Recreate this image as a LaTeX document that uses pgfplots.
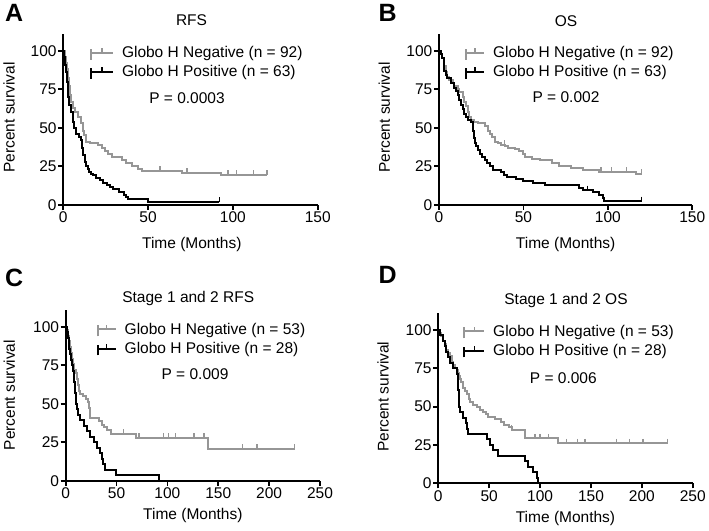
\documentclass[border=0pt]{standalone}
\usepackage{pgfplots}
\pgfplotsset{compat=1.18}
\usepackage{fontspec}
\setmainfont{Liberation Sans}
\definecolor{kmgray}{RGB}{150,150,150}
\newcommand{\fs}{\fontsize{15.5bp}{18bp}\selectfont}
\pgfplotsset{
  km/.style={
    scale only axis, anchor=south west,
    axis lines=left, axis line style={-, line width=2bp, black},
    ymin=0, ymax=111, ytick={0,25,50,75,100},
    xmin=0,
    tick align=outside, major tick length=5bp,
    every tick/.style={black, line width=1.8bp},
    tick label style={font=\fs},
    /pgf/number format/assume math mode=true,
    ylabel={Percent survival},
    xlabel={Time (Months)},
    clip=false,
    legend cell align=left,
    legend style={draw=none, fill=none, inner sep=0pt, outer sep=0pt, row sep=5bp, column sep=8bp, nodes={inner sep=0pt}, font=\fs, anchor=north west},
    yticklabel style={inner sep=1.5bp},
    xticklabel style={inner sep=2bp},
  },
  kmleg/.style 2 args={legend image code/.code={
      \path (0bp,-6.8bp) -- (0bp,4bp);
      \draw[##1,mark=none] (0bp,0bp) -- (#1,0bp);
      \draw[##1,mark=none,line width=1.4bp] (#2,0bp) -- (#2,4.5bp);}},
  ylab/.style 2 args={every axis y label/.style={at={(axis description cs:#1,#2)}, rotate=90, anchor=center, font=\fs}},
  xlab/.style 2 args={every axis x label/.style={at={(axis description cs:#1,#2)}, anchor=center, font=\fs}},
  neg/.style={const plot, color=kmgray, line width=2bp, mark=none},
  pos/.style={const plot, color=black, line width=2bp, mark=none},
  cens/.style={only marks, mark=|, mark size=2.5bp, line width=1.4bp, forget plot, every mark/.append style={yshift=2bp}},
}
\begin{document}
\begin{tikzpicture}
\useasboundingbox (0,0) rectangle (709bp,531bp);
% ---------------- A ----------------
\begin{axis}[km, at={(63.3bp,326.3bp)}, width=254.4bp, height=170.9bp,
  xmax=150, xtick={0,50,100,150}, kmleg={22bp}{11bp},
  ylab={-0.2127}{0.510}, xlab={0.505}{-0.231},
  legend style={at={(axis description cs:0.105,0.926)}}]
\addplot[neg] coordinates {(0,100) (1,96) (1.5,92) (2,88) (2.5,82) (3.2,77) (3.9,71) (4.8,67) (5.8,63) (6.9,60) (8.8,57) (10.4,53) (11.6,48) (12.2,45) (13.4,41) (15.7,40) (20.6,39) (22.6,37) (24.5,35) (26.5,33) (28.5,31) (34.4,29.3) (37,27.3) (40.3,25) (44,23.5) (46.5,22) (70,20.8) (93,19.3) (120,19.3)};
\addlegendentry{Globo H Negative (n = 92)}
\addplot[pos] coordinates {(0,100) (0.5,96) (1,91) (1.5,86) (2,80) (2.5,75) (3,70) (3.5,65) (4.5,60) (5.5,54) (6.5,50) (7.5,46) (9,44) (10.2,42) (11,37) (11.8,32) (12.6,28) (13.4,25) (14.3,23) (15.3,21.4) (16.5,20) (17.7,19) (19.5,17.5) (21.6,16) (23.5,14.3) (25.5,12.8) (27.5,11.4) (29.5,10) (33,8.4) (35.5,6.3) (37,5) (38.3,3.7) (50,1.9) (92,1.9)};
\addlegendentry{Globo H Positive (n = 63)}
\addplot[cens, color=kmgray] coordinates {(57,22) (73,20.8) (97,19.3) (102,19.3) (112,19.3) (120,19.3)};
\addplot[cens, color=black] coordinates {(92,1.9)};
\end{axis}
% ---------------- B ----------------
\begin{axis}[km, at={(439bp,326.3bp)}, width=253.3bp, height=170.9bp,
  xmax=150, xtick={0,50,100,150}, kmleg={18bp}{9bp},
  ylab={-0.2163}{0.510}, xlab={0.5}{-0.235},
  legend style={at={(axis description cs:0.103,0.926)}}]
\addplot[neg] coordinates {(0,100) (1,98) (2,95) (3,90) (4,86) (5,83) (6,81) (8,79) (9,77) (11,75) (12,73) (14,70) (15,67) (16,64) (17,60) (18,57) (19,55) (21,54) (23,53) (27,51) (29,48) (30,46) (31.5,44) (33,41) (35,40) (37,39) (39,38) (41,37) (45,36) (47.5,35) (49.5,33) (51,31) (55,30) (60,29) (67,27) (71,25) (78,24) (85,22.5) (95,21.4) (116.5,20) (120,20)};
\addlegendentry{Globo H Negative (n = 92)}
\addplot[pos] coordinates {(0,100) (1,98) (2,95) (3,87) (4,84) (5,82) (7,79) (9,76) (10,74) (11,71) (12,68) (13,65) (14,62) (15,59) (16,57) (17,55) (19,53.5) (20,48) (20.6,43) (21.3,40) (22,38) (23,35.5) (24,33) (25.5,31) (27,29) (28.5,27) (30,25) (32,22.5) (37,21) (38.5,19.5) (40,18) (45.5,17) (49.5,15.4) (55.5,14.3) (63,12.8) (83,11) (85,9.5) (91,8.4) (95,6.5) (97,4.5) (98,2.4) (120,2.4)};
\addlegendentry{Globo H Positive (n = 63)}
\addplot[cens, color=kmgray] coordinates {(38.7,39) (96,21.4) (102,21.4) (111,21.4) (120,20)};
\addplot[cens, color=black] coordinates {(88,9.5) (120,2.4)};
\end{axis}
% ---------------- C ----------------
\begin{axis}[km, at={(65.7bp,50.3bp)}, width=254.3bp, height=170.9bp,
  xmax=250, xtick={0,50,100,150,200,250}, kmleg={18bp}{9bp},
  ylab={-0.222}{0.501}, xlab={0.5}{-0.205},
  legend style={at={(axis description cs:0.122,0.922)}}]
\addplot[neg] coordinates {(0,100) (1,98.1) (2,94.3) (3,90.6) (4,86.8) (5,83) (6,79.2) (7,75.5) (8.5,71.7) (10,69.8) (11,66) (12,62.3) (13,58.5) (14,56.6) (17,54.7) (20,52.8) (21.5,50.9) (22.6,47.2) (23.5,43.4) (24,40.5) (33,38.5) (36,36.5) (38,34.6) (41,32.7) (45,30.5) (69,28) (140,20.8) (225,20.8)};
\addlegendentry{Globo H Negative (n = 53)}
\addplot[pos] coordinates {(0,100) (1.5,96.4) (2.5,92.9) (3,89.3) (3.5,85.7) (4.5,82.1) (5.5,78.6) (6.5,75) (7.5,71.4) (8,67.9) (8.5,64.3) (9,60.7) (9.5,57.1) (10,53.6) (10.5,50) (11,46.4) (12,42.9) (14.4,39.3) (17.7,35.7) (21,32.1) (24,28.6) (27.5,25) (31,21.4) (34,17.9) (35.5,14.3) (37,10.7) (39,7.1) (49,3.6) (92,0)};
\addlegendentry{Globo H Positive (n = 28)}
\addplot[cens, color=kmgray] coordinates {(57,30.5) (72,28) (96,28) (101,28) (108,28) (126,28) (136,28) (174,20.8) (188,20.8) (225,20.8)};
\end{axis}
% ---------------- D ----------------
\begin{axis}[km, at={(438.3bp,47.7bp)}, width=254.4bp, height=170.2bp,
  xmax=250, xtick={0,50,100,150,200,250}, kmleg={20bp}{10bp},
  ylab={-0.2174}{0.509}, xlab={0.5}{-0.209},
  legend style={at={(axis description cs:0.098,0.9295)}}]
\addplot[neg] coordinates {(0,100) (1.6,98.1) (3,96.2) (5,92.5) (6.5,90.6) (8,86.8) (10,84.9) (11.5,83) (13,79.2) (14.7,77.4) (16,75.5) (18,73.6) (19,71.7) (20,69.8) (21,67.9) (22.5,66) (24.6,62.3) (26,60.4) (28,58.5) (30,54.7) (31,52.8) (34,50.9) (37.7,50) (41,48) (44,46.5) (47,45) (49,43.5) (55.7,42) (62,40) (65,38) (69,37) (72,35) (85,29.3) (118,26) (225,26)};
\addlegendentry{Globo H Negative (n = 53)}
\addplot[pos] coordinates {(0,100) (1.6,96.4) (5,92.9) (6.5,89.3) (8,85.7) (10,82.1) (11.5,78.6) (14.7,75) (18,71.4) (19,67.9) (19.3,64.3) (19.6,60.7) (20,57.1) (20.3,53.6) (20.6,50) (21,46.4) (24.6,42.9) (27,39.3) (28,35.7) (29.5,32.1) (47.5,28.6) (51,25) (54,21.4) (59,17.9) (85,14.3) (88.4,10.7) (93,7.1) (96.6,3.6) (98,0)};
\addlegendentry{Globo H Positive (n = 28)}
\addplot[cens, color=kmgray] coordinates {(72,35) (95,29.3) (100,29.3) (108,29.3) (126,26) (137,26) (144,26) (175,26) (188,26) (201,26) (225,26)};
\end{axis}
% ---------------- titles, p values, panel letters ----------------
\node[anchor=base, font=\fs, inner sep=0pt] at (191.5bp,505bp) {RFS};
\node[anchor=base, font=\fs, inner sep=0pt] at (566bp,504.5bp) {OS};
\node[anchor=base, font=\fs, inner sep=0pt] at (188.2bp,228.5bp) {Stage 1 and 2 RFS};
\node[anchor=base, font=\fs, inner sep=0pt] at (566bp,226bp) {Stage 1 and 2 OS};
\node[anchor=base, font=\fs, inner sep=0pt] at (187bp,427bp) {P = 0.0003};
\node[anchor=base, font=\fs, inner sep=0pt] at (566bp,428.3bp) {P = 0.002};
\node[anchor=base, font=\fs, inner sep=0pt] at (195bp,151bp) {P = 0.009};
\node[anchor=base, font=\fs, inner sep=0pt] at (563.3bp,147.7bp) {P = 0.006};
\node[anchor=base west, inner sep=0pt, font=\fontsize{25bp}{30bp}\selectfont\bfseries] at (5bp,509.3bp) {A};
\node[anchor=base west, inner sep=0pt, font=\fontsize{25bp}{30bp}\selectfont\bfseries] at (378.3bp,509.3bp) {B};
\node[anchor=base west, inner sep=0pt, font=\fontsize{25bp}{30bp}\selectfont\bfseries] at (5bp,244.3bp) {C};
\node[anchor=base west, inner sep=0pt, font=\fontsize{25bp}{30bp}\selectfont\bfseries] at (378.3bp,247.7bp) {D};
\end{tikzpicture}
\end{document}
